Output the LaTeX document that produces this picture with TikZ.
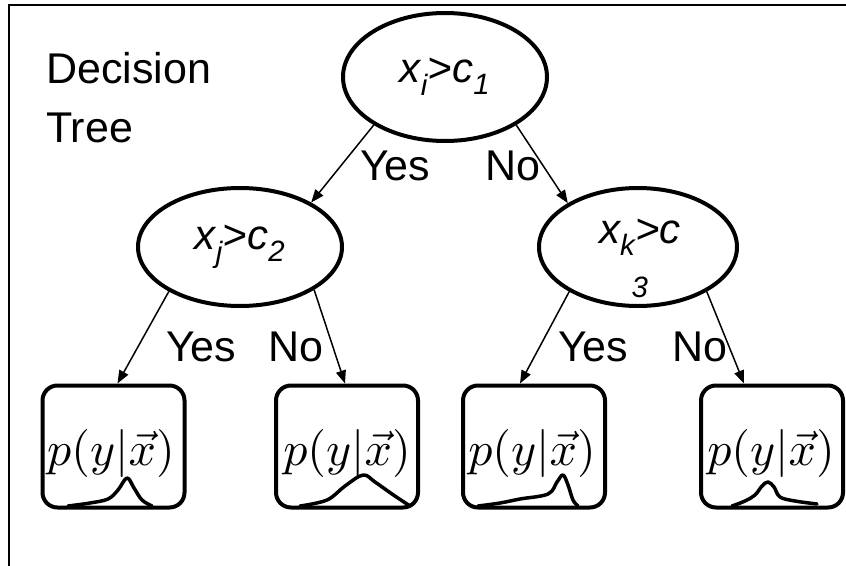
\documentclass[tikz,border=0pt]{standalone}
\usepackage{graphicx}
\usepackage{fontspec}
\setmainfont{Liberation Sans}
\usetikzlibrary{shapes.geometric,arrows.meta,calc}
\newcommand{\pyx}{\scalebox{4.8}{$p(y|\vec{x})$}}
\tikzset{
  test/.style={draw, ellipse, line width=4pt, inner sep=0pt,
    minimum width=204pt, minimum height=128pt,
    font=\fontsize{42}{50}\selectfont\itshape, align=center},
  testtext/.style={inner sep=0pt, font=\fontsize{42}{50}\selectfont\itshape, align=center},
  leaf/.style={draw, rounded corners=15pt, line width=4pt,
    minimum width=142pt, minimum height=122pt, inner sep=0pt},
  dens/.style={inner sep=0pt},
  branch/.style={font=\fontsize{43}{50}\selectfont, inner sep=0pt, anchor=base west},
  edge/.style={line width=1.5pt, -{Triangle[length=13pt,width=10pt]}},
  curve/.style={line width=3.5pt, line cap=round, line join=round}
}
\begin{document}
\begin{tikzpicture}[x=1pt,y=-1pt]
\useasboundingbox (0,0) rectangle (846,565);
% frame
\coordinate (fa) at (9,566);
\coordinate (fb) at (9,5);
\coordinate (fc) at (847,5);
\draw[line width=2.5pt] (fa) -- (fb) -- (fc);

% title
\node[font=\fontsize{43}{59}\selectfont, align=left, anchor=base west, inner sep=0pt]
  (title) at (46,142) {Decision\\Tree};

% decision nodes
\node[test] (root) at (445,77) {x\textsubscript{i}>c\textsubscript{1}};
\node[test, minimum height=118pt] (lt) at (240,247) {x\textsubscript{j}>c\textsubscript{2}};
\node[test, minimum width=198pt, minimum height=118pt] (rt) at (638,247) {};
\node[testtext] (rtl) at (640,258) {x\textsubscript{k}>c\\[-8pt]\textsubscript{3}};

% leaves
\node[leaf] (b1) at (113.5,446.5) {};
\node[leaf] (b2) at (347,446.5) {};
\node[leaf] (b3) at (534,446.5) {};
\node[leaf] (b4) at (772,446.5) {};
\node[dens] (d1) at (111,453) {\pyx};
\node[dens] (d2) at (347,453) {\pyx};
\node[dens] (d3) at (532,453) {\pyx};
\node[dens] (d4) at (771,453) {\pyx};

% branches
\draw[edge] (root.214) -- (lt.32);
\draw[edge] (root.326) -- (rt.148);
\draw[edge] (lt.212) -- ($(b1.north)+(4,0)$);
\draw[edge] (lt.330) -- ($(b2.north)+(-2,0)$);
\draw[edge] (rt.213) -- ($(b3.north)+(-14,0)$);
\draw[edge] (rt.327) -- ($(b4.north)+(-28,0)$);

% branch labels
\node[branch] (y0) at (360,180) {Yes};
\node[branch] (n0) at (485,180) {No};
\node[branch] (y1) at (166,361) {Yes};
\node[branch] (n1) at (268,361) {No};
\node[branch] (y2) at (558,361) {Yes};
\node[branch] (n2) at (672,361) {No};

% sketched densities
\draw[curve] plot[smooth, tension=0.6] coordinates {(68,506) (90,503) (108,499) (118,490) (127,478) (134,488) (142,500) (152,506)};
\draw[curve] plot[smooth, tension=0.6] coordinates {(300,506) (327,500) (345,486) (363,475) (375,482) (392,494) (410,506)};
\draw[curve] plot[smooth, tension=0.6] coordinates {(478,506) (500,503) (520,499) (548,494) (557,482) (563,475) (568,485) (573,500) (578,506)};
\draw[curve] plot[smooth, tension=0.6] coordinates {(732,506) (745,501) (755,495) (762,486) (768,482) (774,487) (780,497) (795,501) (817,504)};
\end{tikzpicture}
\end{document}
